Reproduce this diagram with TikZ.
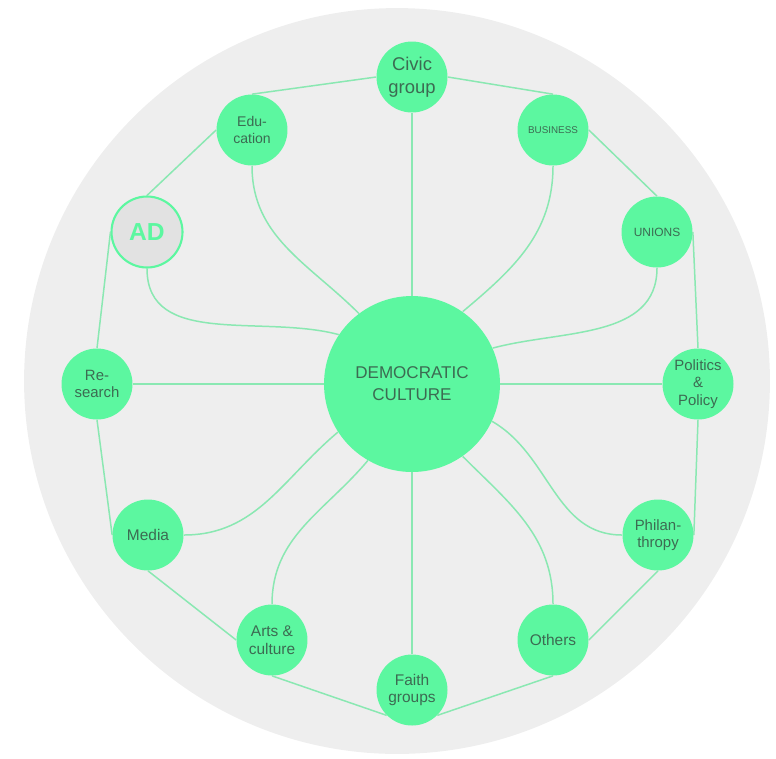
\documentclass[tikz,border=0pt]{standalone}
\usepackage{fontspec}
\setmainfont{Liberation Sans}
\definecolor{mint}{HTML}{5CF7A0}
\definecolor{mintline}{HTML}{8AE8B2}
\definecolor{inktext}{HTML}{3C6B52}
\definecolor{disc}{HTML}{EEEEEE}
\definecolor{adfill}{HTML}{E2E2E2}

\begin{document}
\begin{tikzpicture}[x=0.02cm, y=-0.02cm,
	member/.style={circle, fill=mint, minimum size=1.42cm, inner sep=0pt, align=center, text=inktext, font=\fontsize{8.8}{10}\selectfont},
	hub/.style={circle, fill=mint, minimum size=3.52cm, inner sep=0pt, align=center, text=inktext, font=\fontsize{9.7}{12.5}\selectfont},
	link/.style={draw=mintline, line width=0.85pt}]
	\useasboundingbox (0,0) rectangle (776,758);
	\fill[disc] (397,381) circle[radius=7.46cm];

	\node[hub] (culture) at (412,384) {DEMOCRATIC\\CULTURE};
	\node[member, font=\fontsize{10.5}{13}\selectfont] (civic) at (412,77) {Civic\\group};
	\node[member, font=\fontsize{8}{9.6}\selectfont] (educ) at (252,130) {Edu-\\cation};
	\node[member, font=\fontsize{5.6}{7}\selectfont] (business) at (553,130) {BUSINESS};
	\node[member, draw=mint, fill=adfill, line width=1.2pt, text=mint, font=\fontsize{14}{16}\selectfont\bfseries] (ad) at (147,232) {AD};
	\node[member, font=\fontsize{6.8}{8}\selectfont] (unions) at (657,232) {UNIONS};
	\node[member, font=\fontsize{8.5}{10}\selectfont] (research) at (97,384) {Re-\\search};
	\node[member, font=\fontsize{8.5}{9.8}\selectfont] (politics) at (698,384) {Politics\\\&\\Policy};
	\node[member] (media) at (148,535) {Media};
	\node[member, font=\fontsize{8.5}{10}\selectfont] (philan) at (658,535) {Philan-\\thropy};
	\node[member] (arts) at (272,640) {Arts \&\\culture};
	\node[member] (others) at (553,640) {Others};
	\node[member] (faith) at (412,690) {Faith\\groups};

	% outer ring
	\foreach \a/\b in {civic.west/educ.north, educ.west/ad.north, ad.west/research.north,
		research.south/media.west, media.south/arts.west, arts.south/faith.225,
		faith.-45/others.south, others.east/philan.south, philan.east/politics.south,
		politics.north/unions.east, unions.north/business.east, business.north/civic.east}
	{
		\draw[link] (\a) -- (\b);
	}

	% spokes
	\draw[link] (civic) -- (culture);
	\draw[link] (research) -- (culture);
	\draw[link] (politics) -- (culture);
	\draw[link] (faith) -- (culture);
	\foreach \s/\e/\o/\i in {educ.south/culture.127/-90/135, ad.south/culture.146/-90/165,
		media.east/culture.213/0/-140, arts.north/culture.240/90/-130,
		others.north/culture.-55/90/-45, philan.west/culture.-25/180/-30,
		unions.south/culture.24/-90/15, business.south/culture.55/-90/40}
	{
		\draw[link] (\s) to[out=\o, in=\i] (\e);
	}
\end{tikzpicture}
\end{document}
